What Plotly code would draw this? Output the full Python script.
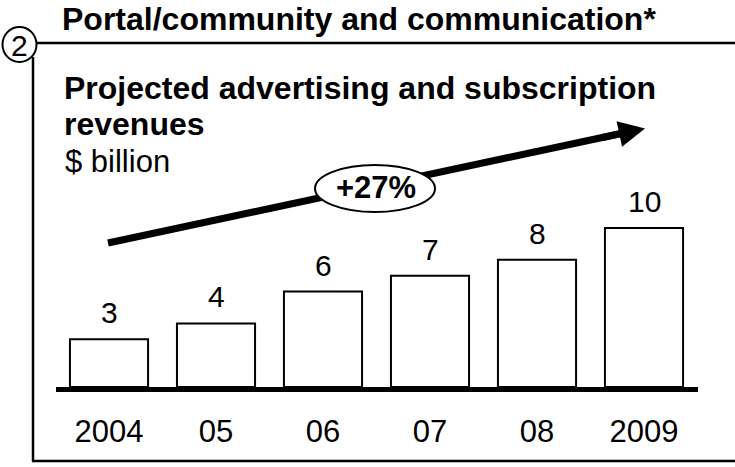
import plotly.graph_objects as go

W, H = 735, 467

# Chart data
years = ["2004", "2005", "2006", "2007", "2008", "2009"]
year_labels = ["2004", "05", "06", "07", "08", "2009"]
revenues = [3, 4, 6, 7, 8, 10]

title = "Portal/community and communication*"
subtitle_lines = ["Projected advertising and subscription", "revenues"]
unit = "$ billion"
growth = "+27%"
panel_no = "2"

FONT = "Liberation Sans, Arial, Helvetica, sans-serif"


def px(x):
    """Horizontal pixel -> paper fraction."""
    return x / W


def py(y):
    """Vertical pixel (from top) -> paper fraction."""
    return 1 - y / H


# Bar area: baseline at 387 px, ~15.9 px per $1B
Y_MAX = 12
base_px = 387
unit_px = 15.9
y_dom = [py(base_px), py(base_px - Y_MAX * unit_px)]

fig = go.Figure(
    go.Bar(
        x=years,
        y=revenues,
        width=0.73,
        marker=dict(color="white", line=dict(color="black", width=2)),
        hoverinfo="skip",
    )
)

fig.update_layout(
    width=W,
    height=H,
    margin=dict(l=0, r=0, t=0, b=0),
    paper_bgcolor="white",
    plot_bgcolor="white",
    showlegend=False,
    font=dict(family=FONT, color="black", size=31),
    xaxis=dict(
        domain=[px(55.5), px(697.5)],
        range=[-0.5, 5.5],
        type="category",
        tickvals=years,
        ticktext=year_labels,
        tickfont=dict(size=31, family=FONT, color="black"),
        ticks="",
        showline=True,
        linewidth=5,
        linecolor="black",
        showgrid=False,
        zeroline=False,
        ticklabelstandoff=13,
    ),
    yaxis=dict(
        domain=y_dom,
        range=[0, Y_MAX],
        visible=False,
    ),
)

line_style = dict(color="black", width=2.5)
shapes = [
    # frame
    dict(type="line", xref="paper", yref="paper",
         x0=px(36), y0=py(43), x1=px(735), y1=py(43), line=line_style),
    dict(type="line", xref="paper", yref="paper",
         x0=px(33), y0=py(57), x1=px(33), y1=py(461), line=line_style),
    dict(type="line", xref="paper", yref="paper",
         x0=px(32), y0=py(461), x1=px(735), y1=py(461), line=line_style),
    # numbered circle
    dict(type="circle", xref="paper", yref="paper",
         x0=px(2.5), x1=px(36.5), y0=py(27), y1=py(62),
         line=dict(color="black", width=2), fillcolor="white"),
    # growth arrow shaft
    dict(type="line", xref="paper", yref="paper",
         x0=px(108), y0=py(243), x1=px(628), y1=py(132),
         line=dict(color="black", width=7)),
    # growth ellipse
    dict(type="circle", xref="paper", yref="paper",
         x0=px(315), x1=px(435), y0=py(165), y1=py(212),
         line=dict(color="black", width=2), fillcolor="white"),
]

annotations = [
    dict(text=f"<b>{title}</b>", x=px(60), y=py(19), xanchor="left", yanchor="middle",
         font=dict(size=32)),
    dict(text=f"<b>{subtitle_lines[0]}</b>", x=px(62), y=py(88), xanchor="left", yanchor="middle",
         font=dict(size=32)),
    dict(text=f"<b>{subtitle_lines[1]}</b>", x=px(62), y=py(124), xanchor="left", yanchor="middle",
         font=dict(size=32)),
    dict(text=unit, x=px(63), y=py(162), xanchor="left", yanchor="middle"),
    dict(text=panel_no, x=px(19.5), y=py(45), xanchor="center", yanchor="middle",
         font=dict(size=30)),
    dict(text=f"<b>{growth}</b>", x=px(376), y=py(188), xanchor="center", yanchor="middle",
         font=dict(size=31)),
    # arrow head
    dict(text="", x=px(645), y=py(128.5), xref="paper", yref="paper",
         showarrow=True, ax=-45, ay=9.6, axref="pixel", ayref="pixel",
         arrowhead=2, arrowwidth=7, arrowsize=0.75, arrowcolor="black", standoff=0),
]
for a in annotations:
    a.setdefault("xref", "paper")
    a.setdefault("yref", "paper")
    a.setdefault("showarrow", False)
    a.setdefault("font", dict(size=31))

# value labels above the bars (category index on the x axis)
for i, v in enumerate(revenues):
    annotations.append(dict(
        text=str(v), x=i, y=v, xref="x", yref="y",
        xanchor="center", yanchor="bottom", yshift=8,
        showarrow=False, font=dict(size=30),
    ))

fig.update_layout(shapes=shapes, annotations=annotations)

fig.write_html("out.html")
